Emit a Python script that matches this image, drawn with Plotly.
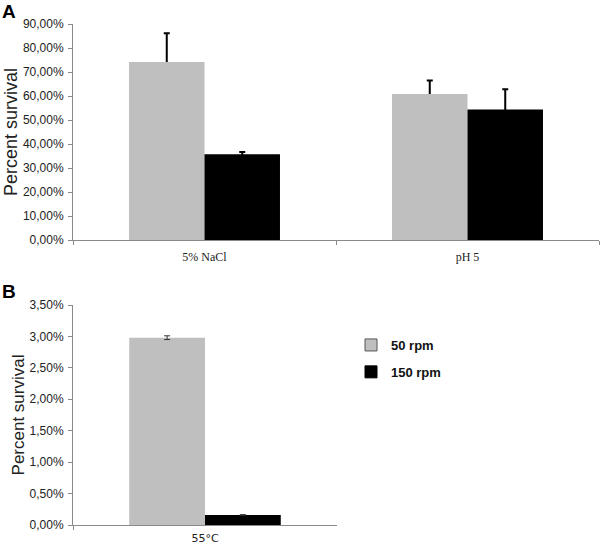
import plotly.graph_objects as go

# ---- data ----
cats_a = ["5% NaCl", "pH 5"]
rpm50_a = [0.742, 0.608]
rpm50_a_err = [0.119, 0.057]
rpm150_a = [0.357, 0.544]
rpm150_a_err = [0.010, 0.084]

cats_b = ["55°C"]
rpm50_b = [0.0298]
rpm50_b_err = [0.0003]
rpm150_b = [0.0016]
rpm150_b_err = [0.00005]

series_names = ["50 rpm", "150 rpm"]
GRAY = "#BFBFBF"
BLACK = "#000000"
AXC = "#8a8a8a"

W, H = 600, 547

def px(x):
    return x / W

def py(y):
    return 1 - y / H

fig = go.Figure()

# Panel A: error-bar carriers drawn first (transparent bars, same offset groups),
# so the visible bars drawn afterwards hide the lower part of each error bar.
for vals, errs, grp in [(rpm50_a, rpm50_a_err, "g50"), (rpm150_a, rpm150_a_err, "g150")]:
    fig.add_trace(go.Bar(x=cats_a, y=vals, offsetgroup=grp,
                         marker=dict(color="rgba(0,0,0,0)", line=dict(width=0)),
                         error_y=dict(type="data", symmetric=False, array=errs,
                                      arrayminus=[v * 0.5 for v in vals],
                                      color="black", thickness=2, width=3),
                         showlegend=False, hoverinfo="skip", xaxis="x", yaxis="y"))
for vals, col, grp in [(rpm50_a, GRAY, "g50"), (rpm150_a, BLACK, "g150")]:
    fig.add_trace(go.Bar(x=cats_a, y=vals, offsetgroup=grp,
                         marker=dict(color=col, line=dict(width=0)),
                         showlegend=False, xaxis="x", yaxis="y"))

# Panel B
for vals, errs, col, grp in [(rpm50_b, rpm50_b_err, GRAY, "g50"), (rpm150_b, rpm150_b_err, BLACK, "g150")]:
    fig.add_trace(go.Bar(x=cats_b, y=vals, offsetgroup=grp,
                         marker=dict(color=col, line=dict(width=0)),
                         error_y=dict(type="data", array=errs, color="#333", thickness=1, width=3),
                         showlegend=False, xaxis="x2", yaxis="y2"))

# legend entries (on a hidden, out-of-range axis so they draw nothing and do not affect grouping)
for name, col, lc in zip(series_names, [GRAY, BLACK], ["#555555", "#000000"]):
    fig.add_trace(go.Bar(x=["_"], y=[0], name=name, legendgroup=name,
                         marker=dict(color=col, line=dict(color=lc, width=1)),
                         xaxis="x3", yaxis="y3", showlegend=True, hoverinfo="skip"))

tickfont = dict(family="Arial, Liberation Sans, sans-serif", size=12, color="#222")
titlefont = dict(family="Arial, Liberation Sans, sans-serif", size=18, color="#222")

fig.update_layout(
    width=W, height=H,
    margin=dict(l=0, r=0, t=0, b=0, autoexpand=False),
    paper_bgcolor="white", plot_bgcolor="white",
    separators=", ",
    barmode="group", bargap=0.426, bargroupgap=0,
    xaxis=dict(domain=[px(73), px(599)], anchor="y", showline=True, linecolor=AXC, linewidth=1,
               ticks="outside", tickson="boundaries", ticklen=4, tickcolor=AXC, automargin=False,
               ticklabelstandoff=6,
               tickfont=dict(family="Times New Roman, Liberation Serif, serif", size=12, color="#222"),
               showgrid=False, zeroline=False),
    yaxis=dict(domain=[py(240), py(24)], anchor="x", range=[0, 0.9], dtick=0.1,
               tickformat=".2%", showline=True, linecolor=AXC, linewidth=1, ticks="outside",
               ticklen=4, tickcolor=AXC, tickfont=tickfont, showgrid=False, zeroline=False,
               automargin=False, ticklabelstandoff=2,
               title=dict(text="Percent survival", font=titlefont, standoff=0)),
    xaxis2=dict(domain=[px(73), px(337)], anchor="y2", showline=True, linecolor=AXC, linewidth=1,
                ticks="outside", tickson="boundaries", ticklen=4, tickcolor=AXC, automargin=False,
                ticklabelstandoff=3,
                tickfont=dict(family="DejaVu Sans, Verdana, sans-serif", size=11, color="#222"),
                showgrid=False, zeroline=False),
    yaxis2=dict(domain=[py(525), py(305)], anchor="x2", range=[0, 0.035], dtick=0.005,
                tickformat=".2%", showline=True, linecolor=AXC, linewidth=1, ticks="outside",
                ticklen=4, tickcolor=AXC, tickfont=tickfont, showgrid=False, zeroline=False,
                automargin=False, ticklabelstandoff=2,
                title=dict(text="Percent survival", font=dict(titlefont, size=17), standoff=0)),
    xaxis3=dict(domain=[0.98, 0.99], anchor="y3", visible=False),
    yaxis3=dict(domain=[0.0, 0.01], anchor="x3", visible=False, range=[1, 2]),
    legend=dict(x=px(351), y=py(330), xanchor="left", yanchor="top",
                font=dict(family="Arial, Liberation Sans, sans-serif", size=13, color="#111", weight="bold"),
                tracegroupgap=7, bgcolor="rgba(0,0,0,0)"),
    annotations=[
        dict(text="<b>A</b>", x=px(0), y=py(-1), xref="paper", yref="paper", xanchor="left",
             yanchor="top", showarrow=False, font=dict(family="Arial, Liberation Sans, sans-serif", size=19, color="black")),
        dict(text="<b>B</b>", x=px(0), y=py(279), xref="paper", yref="paper", xanchor="left",
             yanchor="top", showarrow=False, font=dict(family="Arial, Liberation Sans, sans-serif", size=19, color="black")),
    ],
)

# remove the browser's default 8px page margin so the figure fills the window exactly
fig.write_html("out.html", config={"displayModeBar": False},
               post_script="document.body.style.margin='0px';")
